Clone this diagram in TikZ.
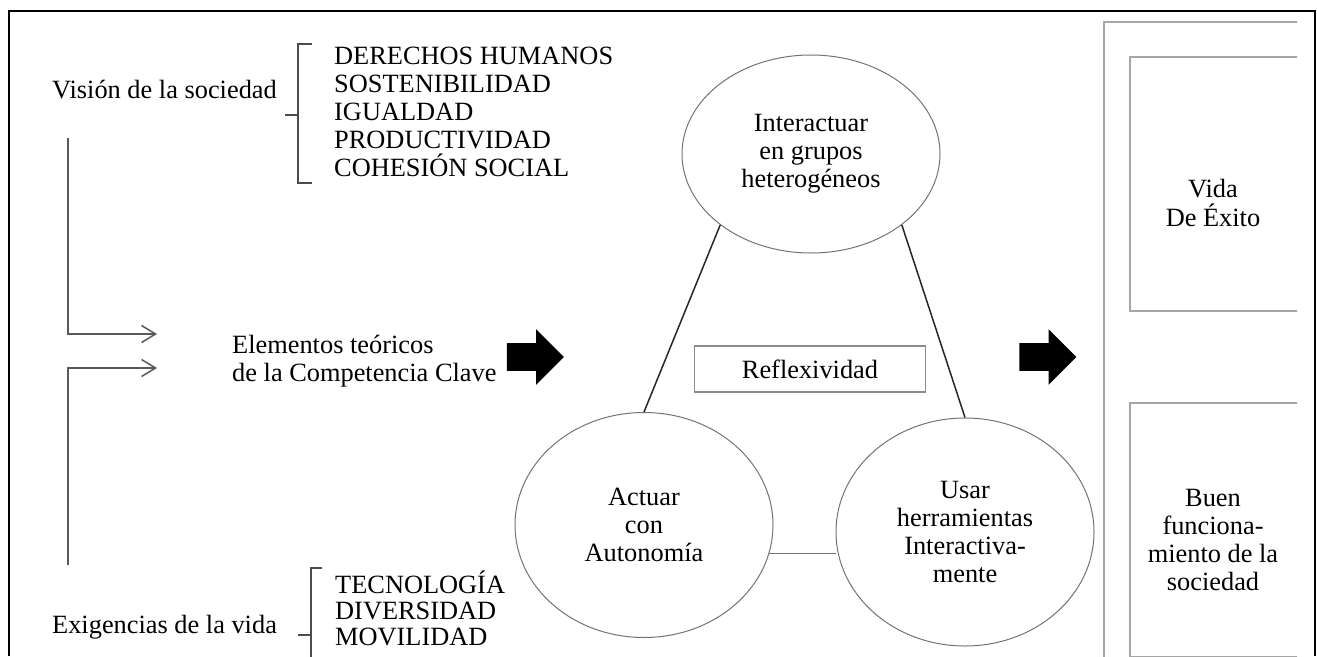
\documentclass[tikz,border=0pt]{standalone}
\usepackage{fontspec}
\setmainfont{Liberation Serif}
\usetikzlibrary{shapes.geometric,shapes.arrows,arrows.meta}

\begin{document}
\begin{tikzpicture}[
	x=0.2mm, y=-0.2mm,
	every node/.style={font=\fontsize{15}{16}\selectfont},
	oval/.style={ellipse, draw=black!55, line width=0.2mm, inner sep=0pt, align=center},
	link/.style={line width=0.3mm, black!85},
	feed/.style={line width=0.3mm, black!65, -{Straight Barb[length=2.8mm,width=3.4mm]}},
	hook/.style={line width=0.3mm, black!70},
	push/.style={single arrow, fill=black, minimum height=11.4mm, single arrow head extend=2.8mm, inner xsep=0pt, inner ysep=2.7mm},
	goal/.style={draw=black!35, line width=0.4mm, minimum width=34mm, minimum height=50.8mm}
	]
\useasboundingbox (0,0) rectangle (1317,656);
\clip (0,0) rectangle (1317,656);

% frame
\draw[line width=0.4mm] (9,656) |- (1315,11) -- (1315,656);

% left column
\node[anchor=west] (vision) at (46,90) {Visión de la sociedad};
\node[anchor=west, align=left] (valores) at (328,112) {DERECHOS HUMANOS\\SOSTENIBILIDAD\\IGUALDAD\\PRODUCTIVIDAD\\COHESIÓN SOCIAL};
\draw[hook] (312,44) -- (298,44) -- (298,183) -- (312,183);
\draw[hook] (285,115) -- (298,115);

\node[anchor=west] (exig) at (46,627) {Exigencias de la vida};
\node[anchor=west, align=left, font=\fontsize{15}{14.8}\selectfont] (retos) at (329,608) {TECNOLOGÍA\\DIVERSIDAD\\MOVILIDAD};
\draw[hook] (322,568) -- (311,568) -- (311,700);
\draw[hook] (298,635) -- (311,635);

\node[anchor=west, align=left] (elem) at (226,361) {Elementos teóricos\\de la Competencia Clave};
\coordinate (vtop) at (68,138);
\coordinate (vbot) at (68,565);
\coordinate (in1) at (157,334);
\coordinate (in2) at (157,368);
\draw[feed] (vtop) |- (in1);
\draw[feed] (vbot) |- (in2);

\node[push] (push1) at (528.5,357) {};
\node[push] (push2) at (1041,357) {};

% competencias
\node[oval, minimum width=51.6mm, minimum height=39.6mm] (grupos) at (811,154) {Interactuar\\en grupos\\heterogéneos};
\node[oval, minimum width=51.6mm, minimum height=45mm] (auto) at (644,525) {Actuar\\con\\Autonomía};
\node[oval, minimum width=51.6mm, minimum height=45.6mm] (herr) at (965,532) {Usar\\herramientas\\Interactiva-\\mente};
\node[draw=black!45, line width=0.3mm, minimum width=46.2mm, minimum height=9.2mm] (refl) at (810,369) {Reflexividad};

\draw[link] (grupos.218) -- (auto.north);
\draw[link] (grupos.322) -- (herr.north);
\draw[black!55, line width=0.2mm] (auto.-13) -- (auto.-13 -| herr.west);

% resultados
\begin{scope}
\clip (1090,0) rectangle (1297,656);
\draw[black!35, line width=0.4mm] (1104,700) |- (1320,22);
\node[goal] (vida) at (1215,184) {};
\node[goal] (buen) at (1215,530) {};
\end{scope}
\node[align=center] (vidatxt) at (1213,203) {Vida\\De Éxito};
\node[align=center] (buentxt) at (1213,540) {Buen\\funciona-\\miento de la\\sociedad};
\end{tikzpicture}
\end{document}
